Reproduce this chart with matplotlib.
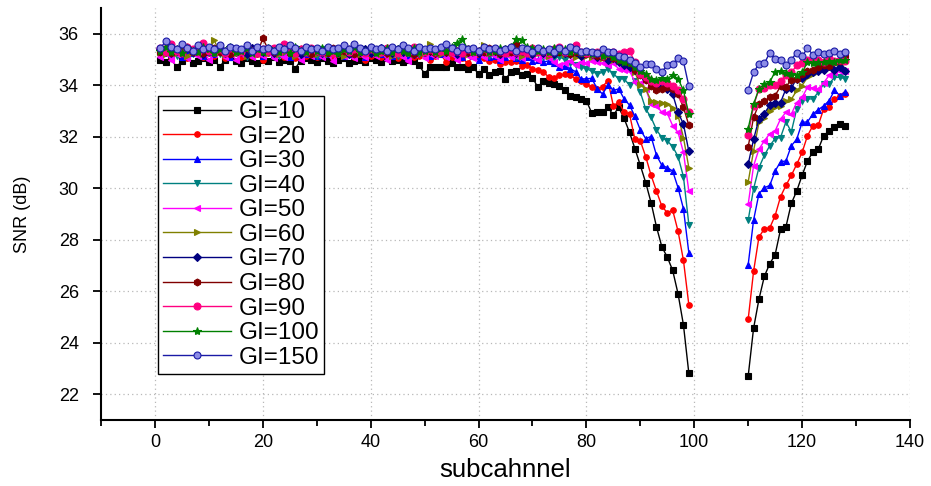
import matplotlib
matplotlib.use("Agg")
import matplotlib.pyplot as plt
from matplotlib.ticker import MultipleLocator

plt.rcParams['font.family'] = ['Liberation Sans', 'DejaVu Sans']

x_left = list(range(1, 100))
x_right = list(range(110, 129))

labels = ["GI=10", "GI=20", "GI=30", "GI=40", "GI=50", "GI=60",
          "GI=70", "GI=80", "GI=90", "GI=100", "GI=150"]

gi10_left = [35.0, 34.9, 35.05, 34.7, 34.95, 35.1, 34.85, 34.95, 35.05, 34.9,
             35.0, 34.7, 35.0, 35.1, 34.95, 34.85, 35.05, 34.95, 34.85, 35.0,
             34.95, 35.1, 34.9, 35.0, 34.95, 34.65, 34.95, 35.05, 35.0, 34.9,
             35.05, 34.95, 34.85, 35.0, 35.05, 34.85, 34.95, 35.0, 34.9, 35.05,
             35.0, 34.9, 35.05, 34.95, 35.0, 34.9, 35.0, 34.95, 34.77, 34.45,
             34.7, 34.7, 34.72, 34.7, 34.85, 34.7, 34.72, 34.64, 34.7, 34.44,
             34.64, 34.38, 34.5, 34.57, 34.25, 34.5, 34.57, 34.4, 34.45, 34.3,
             33.92, 34.18, 34.1, 34.05, 33.96, 33.8, 33.6, 33.55, 33.47,
             33.4, 32.92, 32.97, 32.97, 33.14, 32.84, 33.14, 32.71, 32.17, 31.54,
             30.89, 30.22, 29.44, 28.5, 27.72, 27.33, 26.81, 25.9, 24.69, 22.81]
gi10_right = [22.70, 24.56, 25.69, 26.58, 27.07, 27.42, 28.40, 28.50, 29.41, 29.89,
              30.50, 31.06, 31.41, 31.52, 32.04, 32.23, 32.36, 32.49, 32.43]

gi20_left = [35.2, 35.3, 35.1, 35.35, 35.15, 35.05, 35.3, 35.2, 35.1, 35.25,
             35.15, 35.3, 35.05, 35.2, 35.25, 35.1, 35.3, 35.15, 35.2, 35.0,
             35.25, 35.15, 35.3, 35.1, 35.2, 35.05, 35.25, 35.15, 35.3, 35.1,
             35.2, 35.25, 35.05, 35.2, 35.15, 35.3, 35.1, 35.2, 35.0, 35.15,
             35.25, 35.1, 35.2, 35.15, 35.05, 35.25, 35.2, 35.1, 35.15, 35.2,
             35.0, 35.15, 35.2, 34.9, 35.1, 35.2, 35.05, 34.85, 35.15, 35.1,
             35.05, 34.95, 35.0, 34.83, 34.9, 34.89, 34.95, 34.76, 34.8, 34.64,
             34.6, 34.53, 34.31, 34.3, 34.38, 34.42, 34.4, 34.25, 34.15, 34.05,
             33.92, 33.86, 33.95, 34.18, 33.2, 33.35, 32.95, 32.88, 31.9, 31.84,
             31.23, 30.5, 29.89, 29.3, 29.05, 29.15, 28.33, 27.2, 25.47]
gi20_right = [24.91, 26.77, 28.11, 28.42, 28.46, 28.94, 29.67, 30.11, 30.50, 30.93,
              31.39, 32.04, 32.43, 32.45, 33.08, 33.14, 33.47, 33.6, 33.66]

gi30_left = [35.3, 35.45, 35.2, 35.35, 35.1, 35.3, 35.25, 35.4, 35.15, 35.3,
             35.2, 35.35, 35.25, 35.1, 35.3, 35.4, 35.2, 35.25, 35.35, 35.15,
             35.3, 35.2, 35.4, 35.25, 35.1, 35.3, 35.35, 35.2, 35.25, 35.15,
             35.35, 35.2, 35.3, 35.25, 35.15, 35.4, 35.2, 35.3, 35.1, 35.25,
             35.3, 35.2, 35.35, 35.15, 35.25, 35.3, 35.1, 35.2, 35.35, 35.25,
             35.15, 35.3, 35.2, 35.55, 35.3, 35.2, 35.1, 35.25, 35.15, 35.0,
             35.2, 35.1, 35.15, 35.0, 35.1, 35.2, 35.05, 35.0, 35.1, 34.95,
             35.0, 34.9, 34.95,
             34.85, 34.7, 34.75, 34.64, 34.53, 34.25, 34.25, 34.27, 33.86, 33.66,
             34.01, 33.8, 33.86, 33.47, 33.23, 32.79, 32.27, 31.93, 32.01, 31.28,
             30.89, 30.8, 30.67, 30.02, 29.2, 27.49]
gi30_right = [27.03, 28.76, 29.79, 30.02, 30.11, 30.67, 31.03, 31.06, 31.65, 31.9,
              32.56, 32.58, 32.88, 33.05, 33.2, 33.4, 33.8, 33.6, 33.75]

gi40_left = [35.25, 35.4, 35.3, 35.15, 35.35, 35.45, 35.2, 35.3, 35.4, 35.25,
             35.35, 35.2, 35.3, 35.45, 35.25, 35.35, 35.1, 35.3, 35.4, 35.2,
             35.3, 35.35, 35.15, 35.3, 35.4, 35.25, 35.2, 35.35, 35.3, 35.15,
             35.4, 35.25, 35.3, 35.2, 35.35, 35.3, 35.15, 35.4, 35.25, 35.3,
             35.2, 35.35, 35.3, 35.4, 35.15, 35.3, 35.25, 35.35, 35.2, 35.3,
             35.4, 35.25, 35.3, 35.15, 35.35, 35.2, 35.3, 35.4, 35.25, 35.2,
             35.3, 35.15, 35.25, 35.35, 35.2, 35.3, 35.1, 35.25, 35.2, 35.15,
             35.25, 35.1, 35.2, 35.05, 35.1,
             35.0, 34.85, 34.8, 34.7, 34.64, 34.55, 34.44, 34.5, 34.64, 34.45,
             34.25, 34.25, 34.0, 34.18, 33.73, 33.08, 32.75, 32.27, 31.97, 31.84,
             31.62, 31.23, 30.45, 28.59]
gi40_right = [28.76, 29.98, 30.8, 31.28, 31.65, 31.93, 31.97, 32.58, 32.19, 33.08,
              33.4, 33.47, 33.47, 33.73, 34.05, 34.05, 34.31, 34.31, 34.25]

gi50_left = [35.1, 35.3, 35.0, 35.2, 35.35, 35.05, 35.25, 35.15, 35.3, 35.0,
             35.2, 35.35, 35.1, 35.25, 35.0, 35.2, 35.3, 35.1, 35.25, 35.15,
             35.3, 35.05, 35.2, 35.1, 35.35, 35.2, 35.0, 35.25, 35.15, 35.3,
             35.1, 35.2, 34.95, 35.25, 35.15, 35.3, 35.05, 35.2, 35.1, 35.25,
             35.15, 35.3, 35.0, 35.2, 35.25, 35.1, 34.95, 35.2, 35.3, 35.05,
             35.2, 35.15, 35.3, 35.1, 35.2, 35.0, 35.25, 35.15, 35.05, 35.2,
             35.1, 35.25, 35.15, 35.0, 35.2, 35.1, 35.15, 35.05, 35.2, 35.1,
             35.0, 35.15, 35.05, 34.9, 34.77, 34.85, 34.95, 34.8, 34.9, 34.85,
             34.95, 34.9, 34.85, 34.77, 34.85,
             34.64, 34.6, 34.55, 34.14, 34.1, 33.86, 33.27, 33.2, 32.95, 32.91,
             32.43, 32.17, 31.39, 29.89]
gi50_right = [29.37, 30.87, 31.52, 31.84, 32.12, 32.23, 32.69, 32.95, 32.88, 33.33,
              33.53, 33.92, 33.9, 33.86, 34.1, 34.38, 34.53, 34.55, 34.57]

gi60_left = [35.3, 35.2, 35.4, 35.25, 35.35, 35.15, 35.3, 35.45, 35.2, 35.35,
             35.74, 35.3, 35.2, 35.4, 35.25, 35.35, 35.15, 35.3, 35.2, 35.4,
             35.25, 35.35, 35.2, 35.3, 35.45, 35.15, 35.3, 35.25, 35.4, 35.2,
             35.3, 35.2, 35.35, 35.25, 35.15, 35.3, 35.4, 35.2, 35.3, 35.25,
             35.35, 35.2, 35.3, 35.15, 35.4, 35.25, 35.3, 35.2, 35.35, 35.25,
             35.6, 35.3, 35.2, 35.35, 35.25, 35.4, 35.3, 35.2, 35.35, 35.3,
             35.55, 35.25, 35.3, 35.2, 35.35, 35.25, 35.3, 35.15, 35.3, 35.2,
             35.25, 35.3, 35.15, 35.2, 35.3, 35.2, 35.25, 35.1, 35.2, 35.15,
             35.1, 35.2, 35.05, 35.1, 35.0, 34.95, 34.85,
             34.77, 34.5, 34.0, 33.86, 33.4, 33.35, 33.33, 33.27, 33.1, 32.82,
             31.97, 30.8]
gi60_right = [30.24, 31.45, 32.56, 32.71, 33.0, 33.14, 33.2, 33.4, 33.45, 33.8,
              33.99, 34.31, 34.45, 34.64, 34.7, 34.77, 34.87, 34.85, 34.89]

gi70_left = [35.4, 35.3, 35.5, 35.35, 35.25, 35.45, 35.3, 35.4, 35.2, 35.35,
             35.3, 35.45, 35.25, 35.35, 35.4, 35.3, 35.2, 35.45, 35.35, 35.3,
             35.4, 35.25, 35.35, 35.45, 35.3, 35.35, 35.2, 35.4, 35.3, 35.35,
             35.25, 35.4, 35.35, 35.3, 35.45, 35.2, 35.35, 35.3, 35.4, 35.25,
             35.35, 35.45, 35.3, 35.25, 35.4, 35.3, 35.35, 35.2, 35.4, 35.3,
             35.35, 35.25, 35.45, 35.3, 35.35, 35.2, 35.4, 35.3, 35.35, 35.25,
             35.4, 35.3, 35.35, 35.2, 35.3, 35.4, 35.25, 35.35, 35.3, 35.2,
             35.35, 35.25, 35.3, 35.2, 35.35, 35.25, 35.2, 35.3, 35.15, 35.25,
             35.2, 35.1, 35.15, 35.0, 35.05, 34.9, 34.8, 34.7, 34.6,
             34.5, 34.25, 34.18, 34.0, 33.95, 33.86, 33.66, 32.95, 32.49, 31.43]
gi70_right = [30.93, 31.9, 32.69, 32.9, 33.23, 33.3, 33.33, 33.86, 33.9, 34.25,
              34.3, 34.45, 34.5, 34.55, 34.6, 34.75, 34.6, 34.7, 34.57]

gi80_left = [35.3, 35.45, 35.25, 35.4, 35.35, 35.5, 35.3, 35.4, 35.25, 35.35,
             35.45, 35.3, 35.35, 35.2, 35.4, 35.3, 35.45, 35.35, 35.25, 35.82,
             35.4, 35.3, 35.35, 35.45, 35.25, 35.35, 35.4, 35.3, 35.2, 35.4,
             35.35, 35.25, 35.45, 35.3, 35.35, 35.4, 35.2, 35.35, 35.3, 35.45,
             35.3, 35.35, 35.25, 35.4, 35.3, 35.45, 35.35, 35.2, 35.4, 35.3,
             35.35, 35.25, 35.4, 35.3, 35.45, 35.35, 35.25, 35.3, 35.4, 35.35,
             35.3, 35.45, 35.35, 35.25, 35.4, 35.3, 35.6, 35.35, 35.3, 35.4,
             35.3, 35.35, 35.25, 35.4, 35.3, 35.35, 35.2, 35.3, 35.25, 35.2,
             35.25, 35.15, 35.1, 35.2, 35.05, 35.0, 34.95,
             34.85, 34.6, 34.4, 34.2, 33.99, 33.8, 33.85, 33.92, 33.86, 33.66,
             33.14, 32.45]
gi80_right = [31.61, 32.75, 33.27, 33.4, 33.53, 33.6, 33.96, 33.95, 34.2, 34.25,
              34.45, 34.55, 34.6, 34.7, 34.8, 34.75, 34.9, 34.95, 35.13]

gi90_left = [35.45, 35.3, 35.6, 35.35, 35.25, 35.5, 35.4, 35.3, 35.65, 35.35,
             35.3, 35.4, 35.25, 35.45, 35.35, 35.3, 35.5, 35.35, 35.25, 35.4,
             35.35, 35.45, 35.3, 35.6, 35.35, 35.25, 35.4, 35.3, 35.45, 35.35,
             35.3, 35.4, 35.25, 35.35, 35.45, 35.3, 35.4, 35.35, 35.25, 35.4,
             35.35, 35.3, 35.45, 35.35, 35.25, 35.4, 35.3, 35.5, 35.35, 35.3,
             35.4, 35.3, 35.35, 35.45, 35.3, 35.35, 35.25, 35.4, 35.3, 35.35,
             35.45, 35.3, 35.4, 35.35, 35.25, 35.4, 35.3, 35.35, 35.25, 35.45,
             35.3, 35.35, 35.25, 35.4, 35.5, 35.3, 35.35, 35.55, 35.3, 35.25,
             35.2, 35.3, 35.15, 35.25, 35.3, 35.2, 35.3, 35.35,
             34.89, 34.44, 34.31, 34.18, 34.1, 34.15, 34.1, 33.99, 33.8, 33.47,
             32.95]
gi90_right = [32.06, 33.2, 33.86, 33.9, 34.01, 34.0, 34.18, 34.38, 34.5, 34.77,
              34.85, 34.97, 34.95, 35.0, 34.9, 35.05, 34.95, 35.0, 34.95]

gi100_left = [35.35, 35.5, 35.3, 35.4, 35.25, 35.45, 35.35, 35.3, 35.5, 35.4,
              35.25, 35.4, 35.35, 35.5, 35.3, 35.35, 35.45, 35.25, 35.4, 35.3,
              35.45, 35.35, 35.3, 35.4, 35.25, 35.5, 35.35, 35.3, 35.4, 35.35,
              35.45, 35.3, 35.35, 35.25, 35.4, 35.35, 35.5, 35.3, 35.35, 35.4,
              35.25, 35.35, 35.45, 35.3, 35.4, 35.35, 35.25, 35.45, 35.3, 35.35,
              35.4, 35.3, 35.45, 35.35, 35.5, 35.65, 35.8, 35.4, 35.3, 35.35,
              35.4, 35.3, 35.35, 35.45, 35.4, 35.5, 35.78, 35.75, 35.5, 35.45,
              35.35, 35.4, 35.3, 35.45, 35.35, 35.4, 35.3, 35.35, 35.25, 35.3,
              35.2, 35.25, 35.15, 35.2, 35.1, 35.0, 34.9, 34.85,
              34.7, 34.55, 34.45, 34.25, 34.2, 34.3, 34.25, 34.4, 34.25, 33.8,
              32.88]
gi100_right = [32.32, 33.27, 33.86, 34.05, 34.12, 34.53, 34.57, 34.48, 34.45, 34.38,
               34.5, 34.89, 34.85, 34.89, 34.9, 34.95, 34.92, 35.0, 35.0]

gi150_left = [35.45, 35.7, 35.5, 35.4, 35.6, 35.45, 35.35, 35.55, 35.4, 35.5,
              35.4, 35.55, 35.35, 35.5, 35.45, 35.4, 35.55, 35.35, 35.5, 35.4,
              35.45, 35.35, 35.5, 35.4, 35.55, 35.45, 35.35, 35.5, 35.4, 35.45,
              35.35, 35.5, 35.4, 35.45, 35.55, 35.4, 35.6, 35.45, 35.35, 35.5,
              35.4, 35.45, 35.35, 35.5, 35.4, 35.55, 35.45, 35.35, 35.5, 35.4,
              35.45, 35.4, 35.5, 35.6, 35.45, 35.35, 35.5, 35.4, 35.45, 35.35,
              35.5, 35.4, 35.45, 35.35, 35.4, 35.5, 35.35, 35.45, 35.4, 35.3,
              35.45, 35.35, 35.4, 35.3, 35.45, 35.35, 35.5, 35.4, 35.3, 35.35,
              35.3, 35.25, 35.4, 35.3,
              35.3, 35.15, 35.1, 35.0, 34.85, 34.7, 34.83, 34.83, 34.64, 34.53,
              34.77, 34.83, 35.05, 34.93, 33.96]
gi150_right = [33.83, 34.5, 34.83, 34.85, 35.26, 35.03, 35.0, 34.77, 35.0, 35.26,
               35.13, 35.44, 35.18, 35.28, 35.2, 35.25, 35.35, 35.2, 35.31]

series_left = [gi10_left, gi20_left, gi30_left, gi40_left, gi50_left, gi60_left,
               gi70_left, gi80_left, gi90_left, gi100_left, gi150_left]
series_right = [gi10_right, gi20_right, gi30_right, gi40_right, gi50_right, gi60_right,
                gi70_right, gi80_right, gi90_right, gi100_right, gi150_right]

colors = ['#000000', '#ff0000', '#0000ff', '#008080', '#ff00ff', '#808000',
          '#000080', '#800000', '#ff0080', '#008000', '#1a1aa6']
markers = ['s', 'o', '^', 'v', '<', '>', 'D', 'h', 'o', '*', 'o']
msizes = [4, 4, 5, 5, 5, 5, 4, 5, 5, 6, 5]
mfcs = list(colors)
mfcs[-1] = '#8c8ce6'

fig = plt.figure(figsize=(9.31, 4.86), dpi=100)
ax = fig.add_axes([0.1085, 0.1358, 0.8689, 0.8477])

for i in range(len(labels)):
    ax.plot(x_left, series_left[i], color=colors[i], marker=markers[i],
            markersize=msizes[i], markerfacecolor=mfcs[i], markeredgecolor=colors[i],
            markeredgewidth=0.8, linewidth=1.0, label=labels[i])
    ax.plot(x_right, series_right[i], color=colors[i], marker=markers[i],
            markersize=msizes[i], markerfacecolor=mfcs[i], markeredgecolor=colors[i],
            markeredgewidth=0.8, linewidth=1.0)

ax.set_xlim(-10, 140)
ax.set_ylim(21, 37)
ax.xaxis.set_major_locator(MultipleLocator(20))
ax.xaxis.set_minor_locator(MultipleLocator(10))
ax.yaxis.set_major_locator(MultipleLocator(2))

for s in ['top', 'right']:
    ax.spines[s].set_visible(False)
for s in ['left', 'bottom']:
    ax.spines[s].set_linewidth(1.5)

ax.tick_params(axis='both', which='major', direction='out', length=6, width=1.3,
               labelsize=13)
ax.tick_params(axis='y', which='major', pad=10)
ax.tick_params(axis='x', which='major', pad=4)
ax.tick_params(axis='x', which='minor', direction='out', length=4, width=1.3)
ax.grid(True, which='major', color='#b8b8b8', linestyle=(0, (1, 2.5)), linewidth=0.9)
ax.set_axisbelow(True)

ax.set_xlabel('subcahnnel', fontsize=18.5, labelpad=5)
ax.set_ylabel('SNR (dB)', fontsize=13, labelpad=20)

leg = ax.legend(loc='upper left', bbox_to_anchor=(0.0705, 0.786), fontsize=17.5,
                frameon=True, fancybox=False, edgecolor='black', framealpha=1,
                labelspacing=0.105, handlelength=2.8, handletextpad=0.3,
                borderpad=0.2, borderaxespad=0)
leg.get_frame().set_linewidth(1.0)

fig.savefig('out.png', dpi=100)
